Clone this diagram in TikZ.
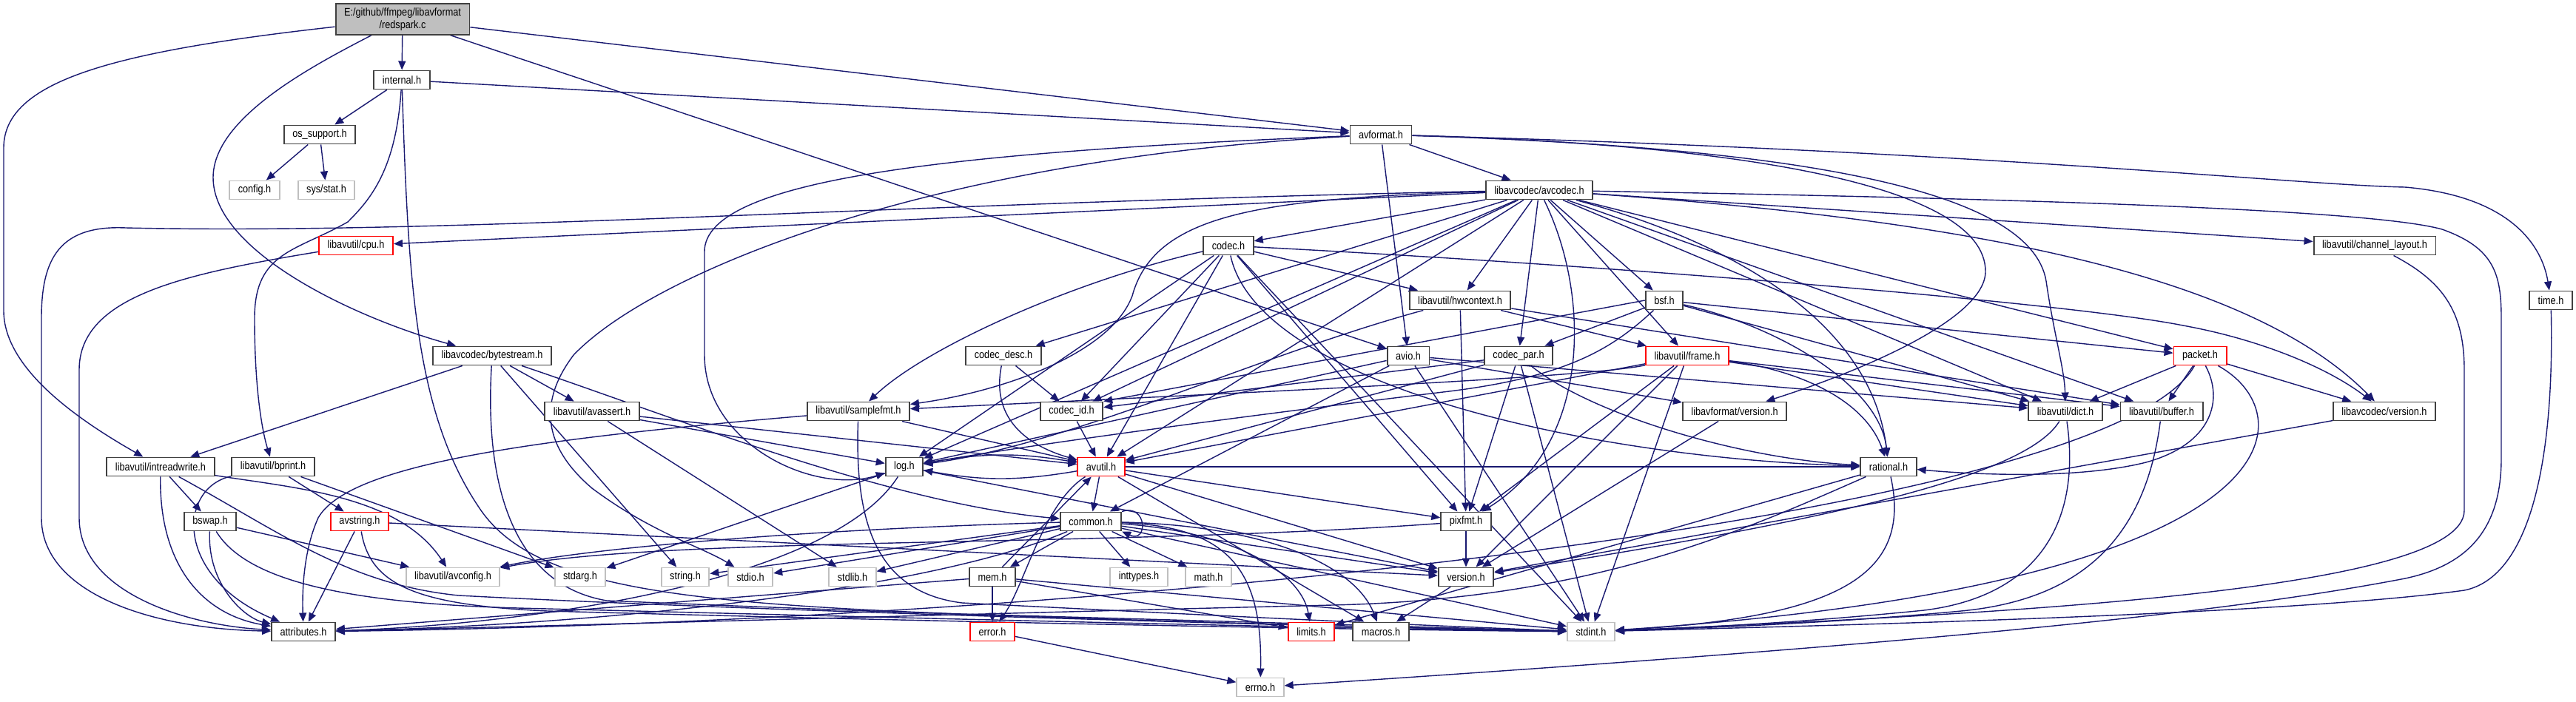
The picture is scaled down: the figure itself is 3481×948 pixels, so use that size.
\documentclass[tikz,border=0pt]{standalone}
\usepackage{fontspec}
\setmainfont[FakeStretch=0.86]{Liberation Sans}
\usetikzlibrary{arrows.meta,backgrounds}
\definecolor{inclblue}{RGB}{25,25,112}
\definecolor{sysgray}{RGB}{191,191,191}
\definecolor{boxgray}{RGB}{64,64,64}
\begin{document}
\begin{tikzpicture}[x=0.01cm, y=-0.01cm,
  hdr/.style={draw=boxgray, fill=white, line width=0.55pt, minimum height=0.25cm, inner xsep=0.115cm, inner ysep=0pt, font=\fontsize{4.2}{5}\selectfont},
  redhdr/.style={hdr, draw=red},
  syshdr/.style={hdr, draw=sysgray},
  roothdr/.style={hdr, fill=sysgray, align=center, minimum height=0.4cm, inner ysep=0.05cm},
  incl/.style={draw=inclblue, line width=0.4pt, -{Triangle[length=0.12cm, width=0.1cm]}}]
\useasboundingbox (0,0) rectangle (3481,948);

% headers, top to bottom
\node[roothdr] (root) at (544,26) {E:/github/ffmpeg/libavformat\\/redspark.c};
\node[hdr] (internal) at (543,108) {internal.h};
\node[hdr] (ossupport) at (432,182) {os\_support.h};
\node[hdr] (avformat) at (1866,182) {avformat.h};
\node[syshdr] (config) at (344,257) {config.h};
\node[syshdr] (sysstat) at (441,257) {sys/stat.h};
\node[hdr] (avcodec) at (2080,257) {libavcodec/avcodec.h};
\node[redhdr] (cpu) at (481,332) {libavutil/cpu.h};
\node[hdr] (codec) at (1660,332) {codec.h};
\node[hdr] (chlayout) at (3209,332) {libavutil/channel\_layout.h};
\node[hdr] (hwcontext) at (1973,406) {libavutil/hwcontext.h};
\node[hdr] (bsf) at (2249,406) {bsf.h};
\node[hdr] (timeh) at (3447,406) {time.h};
\node[hdr] (bytestream) at (665,481) {libavcodec/bytestream.h};
\node[hdr] (codecdesc) at (1356,481) {codec\_desc.h};
\node[hdr] (avio) at (1903,481) {avio.h};
\node[hdr] (codecpar) at (2052,481) {codec\_par.h};
\node[redhdr] (frame) at (2280,481) {libavutil/frame.h};
\node[redhdr] (packet) at (2973,481) {packet.h};
\node[hdr] (avassert) at (800,556) {libavutil/avassert.h};
\node[hdr] (samplefmt) at (1160,556) {libavutil/samplefmt.h};
\node[hdr] (codecid) at (1448,556) {codec\_id.h};
\node[hdr] (lavfversion) at (2344,556) {libavformat/version.h};
\node[hdr] (dict) at (2791,556) {libavutil/dict.h};
\node[hdr] (buffer) at (2921,556) {libavutil/buffer.h};
\node[hdr] (lavcversion) at (3222,556) {libavcodec/version.h};
\node[hdr] (intreadwrite) at (217,631) {libavutil/intreadwrite.h};
\node[hdr] (bprint) at (369,631) {libavutil/bprint.h};
\node[hdr] (log) at (1222,631) {log.h};
\node[redhdr] (avutil) at (1488,631) {avutil.h};
\node[hdr] (rational) at (2552,631) {rational.h};
\node[hdr] (bswap) at (284,705) {bswap.h};
\node[redhdr] (avstring) at (486,705) {avstring.h};
\node[hdr] (common) at (1474,705) {common.h};
\node[hdr] (pixfmt) at (1981,705) {pixfmt.h};
\node[syshdr] (avconfig) at (612,780) {libavutil/avconfig.h};
\node[syshdr] (stdarg) at (784,780) {stdarg.h};
\node[syshdr] (stringh) at (926,780) {string.h};
\node[syshdr] (stdio) at (1014,780) {stdio.h};
\node[syshdr] (stdlib) at (1152,780) {stdlib.h};
\node[hdr] (mem) at (1341,780) {mem.h};
\node[syshdr] (inttypes) at (1539,780) {inttypes.h};
\node[syshdr] (math) at (1633,780) {math.h};
\node[hdr] (version) at (1981,780) {version.h};
\node[hdr] (attributes) at (410,854) {attributes.h};
\node[redhdr] (error) at (1341,854) {error.h};
\node[redhdr] (limits) at (1772,854) {limits.h};
\node[hdr] (macros) at (1866,854) {macros.h};
\node[syshdr] (stdint) at (2150,854) {stdint.h};
\node[syshdr] (errno) at (1703,929) {errno.h};

\begin{pgfonlayer}{background}
% direct includes
\foreach \a/\b in {root/internal, root/avformat, root/avio,
  internal/ossupport, internal/avformat, ossupport/config, ossupport/sysstat,
  avformat/avcodec, avformat/avio,
  avcodec/cpu, avcodec/codec, avcodec/hwcontext, avcodec/bsf, avcodec/codecpar, avcodec/frame,
  avcodec/codecdesc, avcodec/codecid, avcodec/avutil, avcodec/log, avcodec/dict, avcodec/buffer,
  avcodec/packet, avcodec/chlayout,
  codec/hwcontext, codec/codecid, codec/avutil, codec/log, codec/pixfmt, codec/stdint,
  hwcontext/frame, hwcontext/buffer, hwcontext/pixfmt,
  bsf/codecpar, bsf/dict, bsf/packet,
  bytestream/intreadwrite, bytestream/avassert, bytestream/stringh, codecdesc/codecid,
  avio/common, avio/stdint, avio/dict, avio/log, avio/lavfversion,
  codecpar/pixfmt, codecpar/codecid, codecpar/avutil, codecpar/stdint,
  frame/avutil, frame/buffer, frame/dict, frame/pixfmt, frame/version, frame/stdint,
  packet/dict, packet/buffer, packet/lavcversion,
  avassert/stdlib, avassert/log, avassert/avutil, samplefmt/avutil, codecid/avutil,
  lavfversion/version, lavcversion/version, intreadwrite/bswap, bprint/avstring, bprint/stdarg,
  log/stdarg, log/version, avutil/common, avutil/rational, avutil/version, avutil/macros,
  avutil/pixfmt, rational/limits, bswap/avconfig, avstring/attributes, avstring/version,
  common/inttypes, common/math, common/stdint, common/stdio, common/stdlib, common/stringh,
  common/version, common/mem, pixfmt/version,
  mem/error, mem/avutil, mem/limits, mem/stdint, mem/attributes, version/macros, error/errno}
  \draw[incl] (\a) -- (\b);

% routed includes
\draw[incl] (root) .. controls (150,70) and (5,110) .. (5,200) -- (5,420) .. controls (5,500) and (110,570) .. (intreadwrite);
\draw[incl] (root) .. controls (420,90) and (288,160) .. (288,240) .. controls (288,340) and (480,430) .. (bytestream);
\draw[incl] (internal) .. controls (535,230) and (500,270) .. (470,300) .. controls (400,340) and (344,340) .. (344,430) .. controls (344,530) and (355,585) .. (bprint);
\draw[incl] (internal) .. controls (552,380) and (560,560) .. (650,690) .. controls (720,790) and (900,815) .. (1300,830) -- (stdint);
\draw[incl] (avformat) .. controls (2700,205) and (3100,250) .. (3250,253) .. controls (3390,265) and (3435,330) .. (timeh);
\draw[incl] (avformat) .. controls (2350,195) and (2683,250) .. (2683,367) .. controls (2683,430) and (2520,500) .. (lavfversion);
\draw[incl] (avformat) .. controls (2450,200) and (2745,260) .. (2765,380) .. controls (2775,450) and (2790,500) .. (dict);
\draw[incl] (avformat) .. controls (1300,205) and (952,240) .. (952,340) -- (952,480) .. controls (952,600) and (1100,670) .. (log);
\draw[incl] (avformat) .. controls (1250,215) and (880,370) .. (775,480) .. controls (730,540) and (730,600) .. (800,660) .. controls (880,720) and (950,740) .. (stdio);
\draw[incl] (avcodec) .. controls (1200,275) and (600,318) .. (170,308) .. controls (80,304) and (56,350) .. (56,430) -- (56,700) .. controls (56,800) and (200,850) .. (attributes);
\draw[incl] (avcodec) .. controls (2700,268) and (3200,282) .. (3300,310) .. controls (3370,335) and (3380,370) .. (3380,430) -- (3380,620) .. controls (3380,720) and (3330,765) .. (3250,782) .. controls (3000,830) and (2600,870) .. (errno);
\draw[incl] (avcodec) .. controls (1700,268) and (1560,290) .. (1530,400) .. controls (1500,480) and (1350,530) .. (samplefmt);
\draw[incl] (avcodec) .. controls (2150,400) and (2150,600) .. (pixfmt);
\draw[incl] (avcodec) .. controls (2350,330) and (2530,440) .. (rational);
\draw[incl] (avcodec) .. controls (2700,300) and (3050,380) .. (lavcversion);
\draw[incl] (codec) .. controls (1450,380) and (1250,470) .. (samplefmt);
\draw[incl] (codec) .. controls (1700,520) and (2150,620) .. (rational);
\draw[incl] (codec) .. controls (2200,360) and (2800,410) .. (2950,440) .. controls (3060,460) and (3150,500) .. (lavcversion);
\draw[incl] (hwcontext) .. controls (1700,480) and (1450,600) .. (log);
\draw[incl] (bsf.west) -- (codecid.north east);
\draw[incl] (bsf) .. controls (2180,470) and (2120,510) .. (1950,530) .. controls (1700,560) and (1400,600) .. (log);
\draw[incl] (bsf) .. controls (2400,440) and (2540,520) .. (rational);
\draw[incl] (bytestream) .. controls (900,560) and (1200,680) .. (common);
\draw[incl] (bytestream) .. controls (655,650) and (690,790) .. (820,812) .. controls (1200,828) and (1700,845) .. (stdint);
\draw[incl] (codecdesc) .. controls (1340,560) and (1380,600) .. (avutil);
\draw[incl] (codecpar) .. controls (2150,560) and (2350,620) .. (rational);
\draw[incl] (frame) .. controls (2150,510) and (1700,530) .. (samplefmt);
\draw[incl] (frame) .. controls (2430,500) and (2520,540) .. (rational);
\draw[incl] (packet) .. controls (3005,540) and (2990,600) .. (2900,625) .. controls (2800,650) and (2650,640) .. (rational);
\draw[incl] (packet) .. controls (3116,560) and (3116,790) .. (stdint);
\draw[incl] (packet) .. controls (2850,700) and (1500,840) .. (attributes);
\draw[incl] (samplefmt) .. controls (700,595) and (470,630) .. (430,700) .. controls (412,740) and (408,790) .. (attributes);
\draw[incl] (samplefmt) .. controls (1155,700) and (1180,800) .. (1300,815) .. controls (1600,830) and (1900,845) .. (stdint);
\draw[incl] (dict) .. controls (2740,640) and (2500,700) .. (version);
\draw[incl] (dict) .. controls (2812,700) and (2760,805) .. (2600,825) .. controls (2400,845) and (2250,850) .. (stdint);
\draw[incl] (buffer) .. controls (2900,720) and (2820,810) .. (2650,826) .. controls (2450,845) and (2260,850) .. (stdint);
\draw[incl] (chlayout) .. controls (3300,380) and (3330,420) .. (3330,500) -- (3330,690) .. controls (3330,800) and (2700,830) .. (stdint);
\draw[incl] (timeh) .. controls (3452,620) and (3420,780) .. (3330,798) .. controls (3100,830) and (2500,845) .. (stdint);
\draw[incl] (intreadwrite) .. controls (400,660) and (540,670) .. (avconfig);
\draw[incl] (intreadwrite) .. controls (215,760) and (270,830) .. (attributes);
\draw[incl] (intreadwrite) .. controls (380,720) and (470,790) .. (620,805) .. controls (1000,825) and (1700,845) .. (stdint);
\draw[incl] (bprint) .. controls (240,660) and (235,780) .. (attributes);
\draw[incl] (log) to[bend left=10] (avutil);
\draw[incl] (avutil) to[bend left=10] (log);
\draw[incl] (log) .. controls (1120,790) and (700,845) .. (attributes);
\draw[incl] (avutil) .. controls (1410,680) and (1385,790) .. (error);
\draw[incl] (rational) .. controls (2585,780) and (2480,835) .. (stdint);
\draw[incl] (rational) .. controls (2350,720) and (2150,810) .. (1800,818) .. controls (1300,830) and (800,845) .. (attributes);
\draw[incl] (bswap) .. controls (280,790) and (330,835) .. (attributes);
\draw[incl] (bswap) .. controls (330,780) and (450,815) .. (700,822) .. controls (1100,832) and (1700,848) .. (stdint);
\draw[incl] (avstring) .. controls (500,790) and (560,818) .. (740,826) .. controls (1100,836) and (1700,850) .. (stdint);
\draw[incl] (cpu) .. controls (250,370) and (107,400) .. (107,500) -- (107,700) .. controls (107,800) and (250,845) .. (attributes);
\draw[incl] (common.north east) .. controls (1550,680) and (1552,735) .. (common.south east);
\draw[incl] (common) .. controls (1660,712) and (1706,770) .. (errno);
\draw[incl] (common) .. controls (1680,720) and (1760,780) .. (limits);
\draw[incl] (common) .. controls (1700,710) and (1830,760) .. (macros);
\draw[incl] (common) .. controls (1100,715) and (800,740) .. (avconfig);
\draw[incl] (common) .. controls (1250,800) and (800,845) .. (attributes);
\draw[incl] (pixfmt) .. controls (1500,740) and (900,725) .. (avconfig);
\end{pgfonlayer}
\end{tikzpicture}
\end{document}
